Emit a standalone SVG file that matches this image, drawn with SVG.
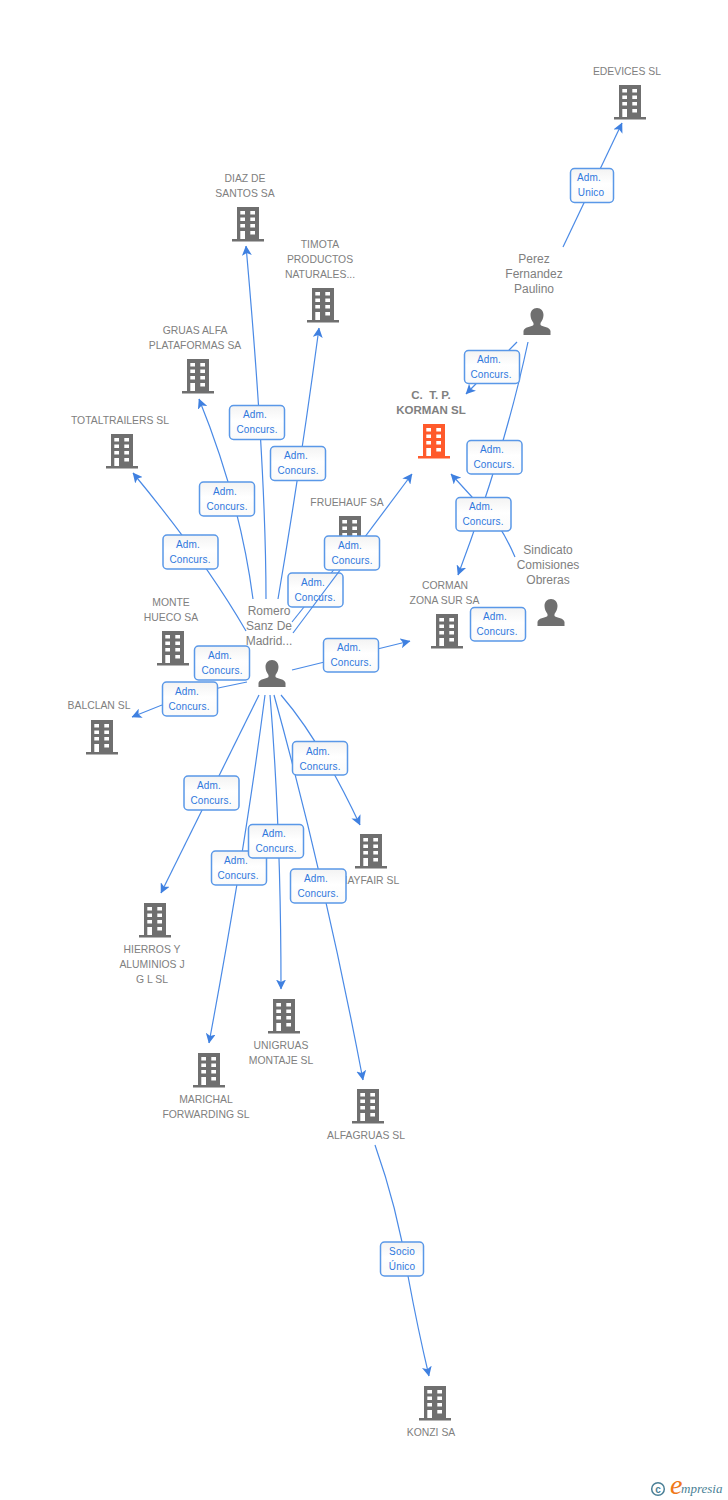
<svg xmlns="http://www.w3.org/2000/svg" width="728" height="1500" viewBox="0 0 728 1500">
<style>
.n{font:10.4px "Liberation Sans",Arial,sans-serif;fill:#808080;text-anchor:middle}
.p{font:12px "Liberation Sans",Arial,sans-serif;fill:#808080;text-anchor:middle}
.k{font:bold 11.5px "Liberation Sans",Arial,sans-serif;fill:#808080;text-anchor:middle;white-space:pre}
.l{font:10px "Liberation Sans",Arial,sans-serif;fill:#2f78dd;text-anchor:middle;letter-spacing:.15px}
.e{fill:none;stroke:#4a8ae6;stroke-width:1.2;marker-end:url(#a)}
.s{fill:none;stroke:#4a8ae6;stroke-width:1.2}
.b{fill:url(#g);stroke:#5a98e8;stroke-width:1.5}
</style>
<defs>
<linearGradient id="g" x1="0" y1="0" x2="0" y2="1"><stop offset="0" stop-color="#f3f3f3"/><stop offset=".45" stop-color="#fff"/><stop offset="1" stop-color="#fafafa"/></linearGradient>
<marker id="a" viewBox="0 0 10 10" refX="9.5" refY="5" markerWidth="10" markerHeight="10" markerUnits="userSpaceOnUse" orient="auto"><path d="M0 0L10 5L0 10L2.500 5z" fill="#3f80e0"/></marker>
<symbol id="bd" viewBox="0 0 32 34" width="32" height="34" overflow="visible">
<path fill-rule="evenodd" d="M5 0H27V32H32V34.500H0V32H5ZM8.300 4V7.500H13V4ZM18.300 4V7.500H23V4ZM8.300 10.500V14H13V10.500ZM18.300 10.500V14H23V10.500ZM8.300 17V20.500H13V17ZM18.300 17V20.500H23V17ZM8.300 24V32H13V24ZM18.300 24V27.500H23V24Z"/>
</symbol>
<symbol id="pr" viewBox="0 0 28 27" width="28" height="27" overflow="visible">
<path d="M14 0C18 0 20.500 3 20.500 7C20.500 10 19 13 17.500 15V17C20 19 27 19 27.500 23V27H0.500V23C1 19 8 19 10.500 17V15C9 13 7.500 10 7.500 7C7.500 3 10 0 14 0Z"/>
</symbol>
</defs>
<rect width="728" height="1500" fill="#fff"/>
<g id="nodes" fill="#6f6f6f">
<g id="n-edevices"><use href="#bd" x="614" y="85"/><text class="n" x="627" y="75">EDEVICES SL</text></g>
<g id="n-diaz"><use href="#bd" x="232" y="207"/><text class="n" x="245" y="182">DIAZ DE</text><text class="n" x="245" y="197">SANTOS SA</text></g>
<g id="n-timota"><use href="#bd" x="307" y="288"/><text class="n" x="320" y="248">TIMOTA</text><text class="n" x="320" y="263">PRODUCTOS</text><text class="n" x="320" y="278">NATURALES...</text></g>
<g id="n-gruas"><use href="#bd" x="182" y="359"/><text class="n" x="195" y="334">GRUAS ALFA</text><text class="n" x="195" y="349">PLATAFORMAS SA</text></g>
<g id="n-total"><use href="#bd" x="106" y="434"/><text class="n" x="120" y="424">TOTALTRAILERS SL</text></g>
<g id="n-korman"><use href="#bd" x="418" y="424" fill="#ff5a2b"/><text class="k" x="431" y="399">C.  T. P.</text><text class="k" x="431" y="414">KORMAN SL</text></g>
<g id="n-fruehauf"><use href="#bd" x="334" y="516"/><text class="n" x="347" y="506">FRUEHAUF SA</text></g>
<g id="n-monte"><use href="#bd" x="157" y="631"/><text class="n" x="171" y="606">MONTE</text><text class="n" x="171" y="621">HUECO SA</text></g>
<g id="n-corman"><use href="#bd" x="431" y="614"/><text class="n" x="445" y="589">CORMAN</text><text class="n" x="444.500" y="604">ZONA SUR SA</text></g>
<g id="n-balclan"><use href="#bd" x="86" y="720"/><text class="n" x="99" y="709">BALCLAN SL</text></g>
<g id="n-mayfair"><use href="#bd" x="355" y="834"/><text class="n" x="369" y="884">MAYFAIR SL</text></g>
<g id="n-hierros"><use href="#bd" x="139" y="903"/><text class="n" x="152" y="953">HIERROS Y</text><text class="n" x="152" y="968">ALUMINIOS J</text><text class="n" x="152" y="983">G L SL</text></g>
<g id="n-marichal"><use href="#bd" x="193" y="1053"/><text class="n" x="206" y="1103">MARICHAL</text><text class="n" x="206" y="1118">FORWARDING SL</text></g>
<g id="n-unigruas"><use href="#bd" x="268" y="999"/><text class="n" x="281" y="1049">UNIGRUAS</text><text class="n" x="281" y="1064">MONTAJE SL</text></g>
<g id="n-alfagruas"><use href="#bd" x="352" y="1089"/><text class="n" x="366" y="1139">ALFAGRUAS SL</text></g>
<g id="n-konzi"><use href="#bd" x="419" y="1386"/><text class="n" x="431" y="1436">KONZI SA</text></g>
<g id="n-perez"><use href="#pr" x="523" y="308"/><text class="p" x="534" y="263">Perez</text><text class="p" x="534" y="278">Fernandez</text><text class="p" x="534" y="293">Paulino</text></g>
<g id="n-sindicato"><use href="#pr" x="537" y="599"/><text class="p" x="548" y="554">Sindicato</text><text class="p" x="548" y="569">Comisiones</text><text class="p" x="548" y="584">Obreras</text></g>
<g id="n-romero"><use href="#pr" x="258" y="660"/><text class="p" x="269" y="615">Romero</text><text class="p" x="269" y="630">Sanz De</text><text class="p" x="269" y="645">Madrid...</text></g>
</g>
<g id="connectors">
<path class="e" d="M563 247L622 123"/>
<path class="e" d="M517 342L466 394"/>
<path class="e" d="M528 342Q505 450 458 575"/>
<path class="e" d="M515 557Q497 515 472 497L451 474"/>
<path class="e" d="M246 631Q205 560 133 473"/>
<path class="e" d="M253 599Q240 500 199 399"/>
<path class="e" d="M266 599Q266 470 246 246"/>
<path class="e" d="M278 599Q300 470 319 328"/>
<path class="e" d="M292 670L410 641"/>
<path class="e" d="M247 682Q190 692 132 717"/>
<path class="e" d="M259 695L161 893"/>
<path class="e" d="M265 695Q245 850 209 1043"/>
<path class="e" d="M270 695Q281 830 281 989"/>
<path class="e" d="M274 695Q325 880 363 1080"/>
<path class="e" d="M281 695Q320 740 360 825"/>
<path class="e" d="M375 1145Q398 1210 408 1276Q418 1330 429 1376"/>
<path class="s" d="M292 622L348 552"/>
</g>
<g id="labels-a">
<g id="l-fruehauf"><rect class="b" x="288" y="573" width="55" height="34" rx="4"/><text class="l" x="313" y="586">Adm.</text><text class="l" x="315" y="601">Concurs.</text></g>
</g>
<g id="connectors-top"><path class="e" d="M293 633L412 474"/></g>
<g id="labels">
<g><rect class="b" x="570.500" y="168.500" width="43" height="34" rx="4"/><text class="l" x="589" y="181">Adm.</text><text class="l" x="591" y="196">Unico</text></g>
<g><rect class="b" x="464.500" y="350.500" width="55" height="33" rx="4"/><text class="l" x="489" y="363">Adm.</text><text class="l" x="491" y="378">Concurs.</text></g>
<g><rect class="b" x="467" y="440.500" width="55" height="33.500" rx="4"/><text class="l" x="492" y="453">Adm.</text><text class="l" x="494" y="468">Concurs.</text></g>
<g><rect class="b" x="456" y="497.500" width="55" height="33.500" rx="4"/><text class="l" x="481" y="510">Adm.</text><text class="l" x="483" y="525">Concurs.</text></g>
<g><rect class="b" x="470.500" y="607.500" width="55" height="33.500" rx="4"/><text class="l" x="495" y="620">Adm.</text><text class="l" x="497" y="635">Concurs.</text></g>
<g><rect class="b" x="324.500" y="536" width="55" height="34" rx="4"/><text class="l" x="350" y="549">Adm.</text><text class="l" x="352" y="564">Concurs.</text></g>
<g><rect class="b" x="323.500" y="638.500" width="55" height="33.500" rx="4"/><text class="l" x="349" y="651">Adm.</text><text class="l" x="351" y="666">Concurs.</text></g>
<g><rect class="b" x="163" y="535" width="55" height="34" rx="4"/><text class="l" x="188" y="548">Adm.</text><text class="l" x="190" y="563">Concurs.</text></g>
<g><rect class="b" x="199.500" y="482" width="55" height="34" rx="4"/><text class="l" x="225" y="495">Adm.</text><text class="l" x="227" y="510">Concurs.</text></g>
<g><rect class="b" x="229.500" y="405.500" width="55" height="34" rx="4"/><text class="l" x="255" y="418">Adm.</text><text class="l" x="257" y="433">Concurs.</text></g>
<g><rect class="b" x="270.500" y="446.500" width="55" height="34" rx="4"/><text class="l" x="296" y="459">Adm.</text><text class="l" x="298" y="474">Concurs.</text></g>
<g><rect class="b" x="194.500" y="646" width="55" height="34" rx="4"/><text class="l" x="220" y="659">Adm.</text><text class="l" x="222" y="674">Concurs.</text></g>
<g><rect class="b" x="162.500" y="682" width="55" height="34" rx="4"/><text class="l" x="187" y="695">Adm.</text><text class="l" x="189" y="710">Concurs.</text></g>
<g><rect class="b" x="184" y="776" width="55" height="34" rx="4"/><text class="l" x="209" y="789">Adm.</text><text class="l" x="211" y="804">Concurs.</text></g>
<g><rect class="b" x="211.500" y="851" width="55" height="34" rx="4"/><text class="l" x="236" y="864">Adm.</text><text class="l" x="238" y="879">Concurs.</text></g>
<g><rect class="b" x="248.500" y="824.500" width="55" height="33.500" rx="4"/><text class="l" x="274" y="837">Adm.</text><text class="l" x="276" y="852">Concurs.</text></g>
<g><rect class="b" x="290.500" y="869" width="55.500" height="34" rx="4"/><text class="l" x="316" y="882">Adm.</text><text class="l" x="318" y="897">Concurs.</text></g>
<g><rect class="b" x="292.500" y="741.500" width="55" height="33.500" rx="4"/><text class="l" x="318" y="755">Adm.</text><text class="l" x="320" y="770">Concurs.</text></g>
<g><rect class="b" x="380.500" y="1242" width="43" height="34" rx="4"/><text class="l" x="402" y="1255">Socio</text><text class="l" x="402" y="1270">Único</text></g>
</g>
<g id="logo">
<circle cx="658" cy="1489" r="6.300" fill="none" stroke="#4a7f96" stroke-width="1.5"/>
<text x="658" y="1492.500" font-family="Liberation Sans,sans-serif" font-size="10" font-weight="bold" fill="#4a7f96" text-anchor="middle">c</text>
<text x="670" y="1494" font-family="Liberation Serif,serif" font-size="28" font-style="italic" fill="#f07818">e</text>
<text x="681" y="1493" font-family="Liberation Serif,serif" font-size="13" font-style="italic" fill="#4a7f96">mpresia</text>
</g>
</svg>
